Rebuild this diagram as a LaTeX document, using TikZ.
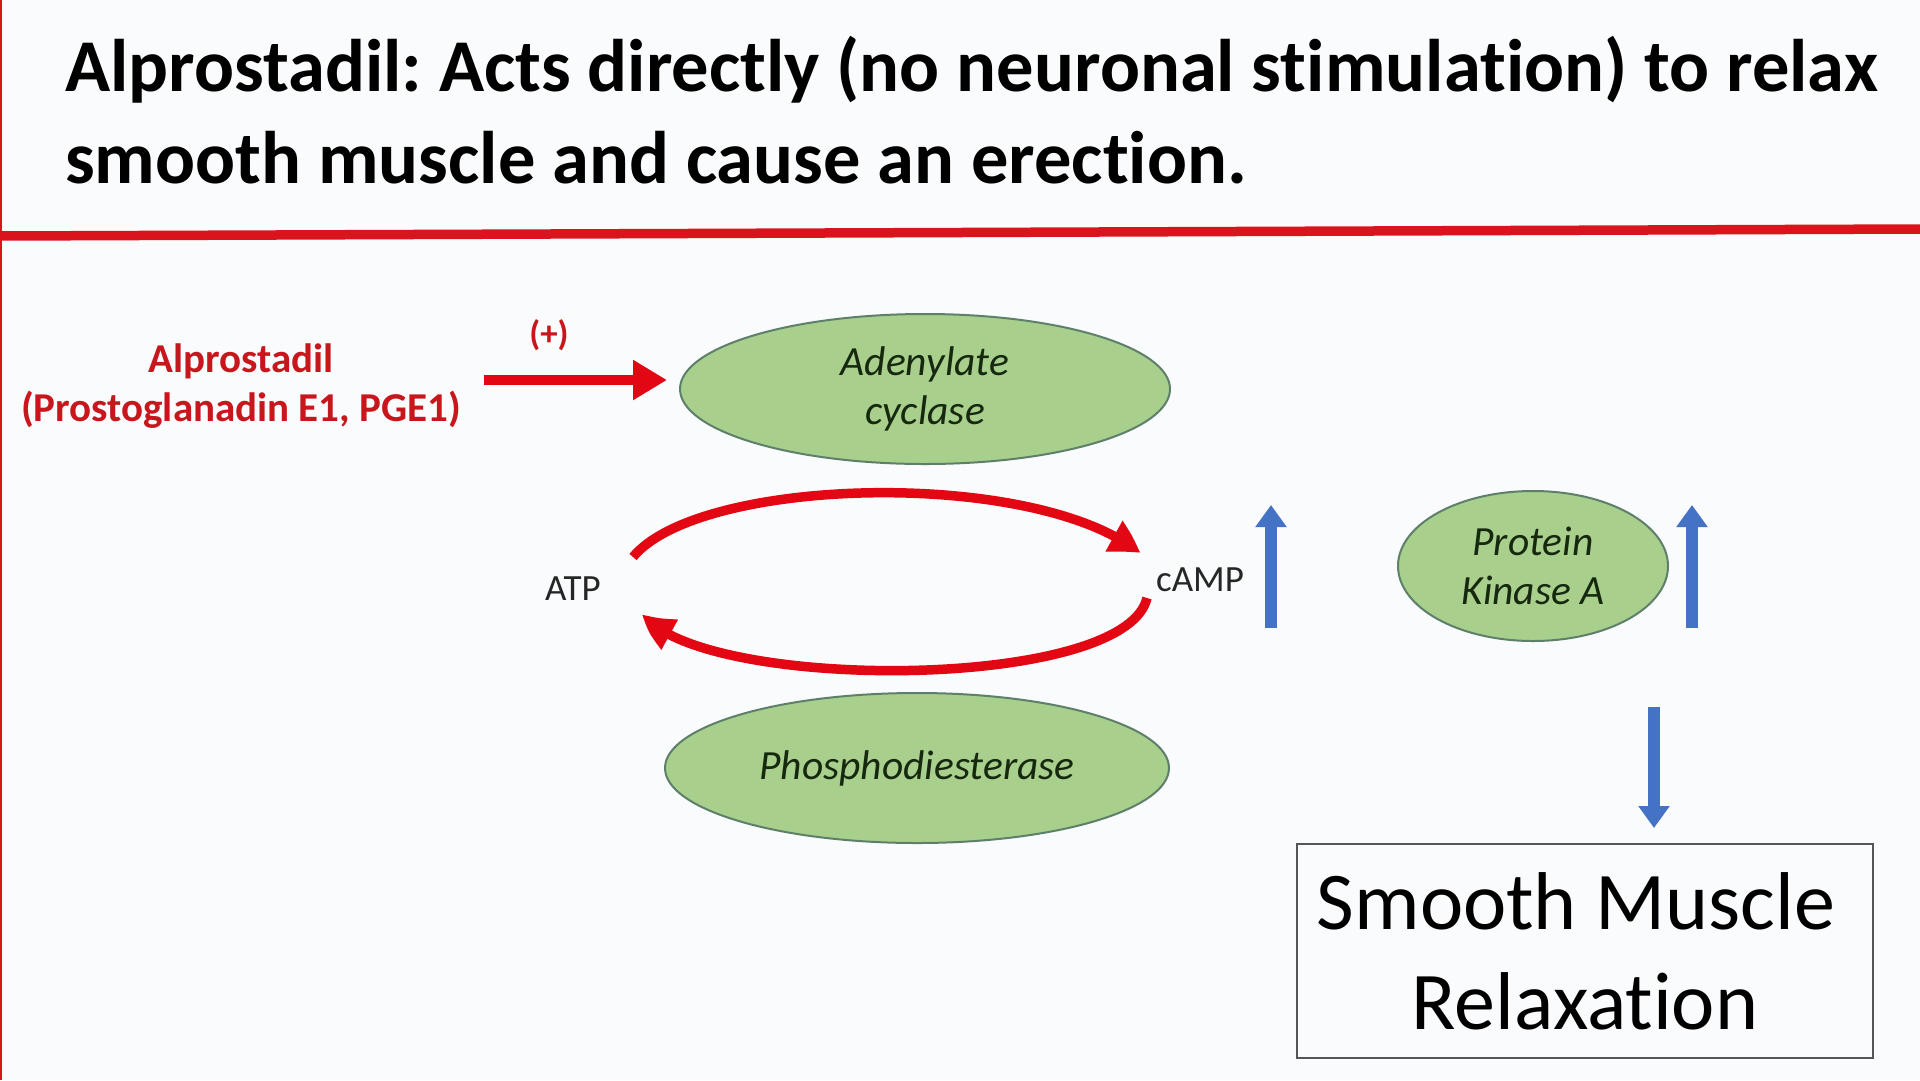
\documentclass[tikz,border=0pt]{standalone}
\usepackage{fontspec}
\setmainfont{Carlito}[Ligatures=NoCommon]
\usetikzlibrary{arrows.meta,shapes.geometric,bending}
\frenchspacing
\definecolor{bgc}{HTML}{FAFBFC}
\definecolor{hred}{HTML}{D9141C}
\definecolor{tred}{HTML}{C8161D}
\definecolor{ared}{HTML}{E30613}
\definecolor{ablue}{HTML}{4472C4}
\definecolor{gfill}{HTML}{A8CF8C}
\definecolor{gline}{HTML}{5E806A}
\definecolor{gtext}{HTML}{16280E}
\definecolor{boxline}{HTML}{555555}
\tikzset{
  enzyme/.style={ellipse, draw=gline, line width=2pt, fill=gfill, inner sep=0pt,
    text=gtext, align=center, font=\itshape\fontsize{41.5}{49}\selectfont},
  redtxt/.style={text=tred, align=center, font=\bfseries\fontsize{41}{49}\selectfont},
  plain/.style={text=black!85, font=\fontsize{37}{42}\selectfont, inner sep=0pt},
  redarrow/.style={draw=ared, line width=9.5pt, -{Triangle[width=34pt,length=30pt,bend]}},
  bluearrow/.style={draw=ablue, line width=12pt, -{Triangle[width=30pt,length=22pt]}},
  titletxt/.style={anchor=base west, inner sep=0pt, font=\bfseries\fontsize{74.5}{88}\selectfont}
}
\begin{document}
\begin{tikzpicture}[x=1pt,y=-1pt]
\useasboundingbox (0,0) rectangle (1920,1080);
\fill[bgc] (0,0) rectangle (1920,1080);
\draw[hred, line width=2.5pt] (1,0) -- (1,1080);
\draw[hred, line width=9.5pt] (0,236) -- (1920,229);
% title
\node[titletxt] (t1) at (65,91) {Alprostadil: Acts directly (no neuronal stimulation) to relax};
\node[titletxt] (t2) at (65,183) {smooth muscle and cause an erection.};
% drug
\node[redtxt] (alp) at (241,386) {Alprostadil\\(Prostoglanadin E1, PGE1)};
\node[text=tred, font=\bfseries\fontsize{35}{40}\selectfont] (plus) at (549,335) {(+)};
% enzymes
\node[enzyme, minimum width=490pt, minimum height=150pt] (ac) at (925,389) {Adenylate\\cyclase};
\node[enzyme, minimum width=504pt, minimum height=150pt] (pde) at (917,768) {Phosphodiesterase};
\node[enzyme, minimum width=270pt, minimum height=150pt] (pka) at (1533,566) {Protein\\Kinase A};
% metabolites
\node[plain] (atp) at (573,589) {ATP};
\node[plain] (camp) at (1200,580) {cAMP};
% result box
\node[draw=boxline, line width=2.5pt, fill=bgc, minimum width=576pt, minimum height=214pt,
  align=center, font=\fontsize{82}{100}\selectfont] (box) at (1585,951) {Smooth Muscle\hspace*{18pt}\\Relaxation};
% coordinates
\coordinate (a1) at (484,380);
\coordinate (a2) at (667,380);
\coordinate (c1) at (633,557);
\coordinate (c2) at (1140,553);
\coordinate (c3) at (1147,598);
\coordinate (c4) at (643,614);
\coordinate (b1s) at (1271,628);
\coordinate (b1e) at (1271,505);
\coordinate (b2s) at (1692,628);
\coordinate (b2e) at (1692,505);
\coordinate (b3s) at (1654,707);
\coordinate (b3e) at (1654,828);
% arrows
\draw[draw=ared, line width=10pt, -{Triangle[width=38pt,length=34pt]}] (a1) -- (a2);
\draw[redarrow] (c1) .. controls (700,476) and (1035,468) .. (c2);
\draw[redarrow] (c3) .. controls (1125,692) and (700,692) .. (c4);
\draw[bluearrow] (b1s) -- (b1e);
\draw[bluearrow] (b2s) -- (b2e);
\draw[bluearrow] (b3s) -- (b3e);
\end{tikzpicture}
\end{document}
